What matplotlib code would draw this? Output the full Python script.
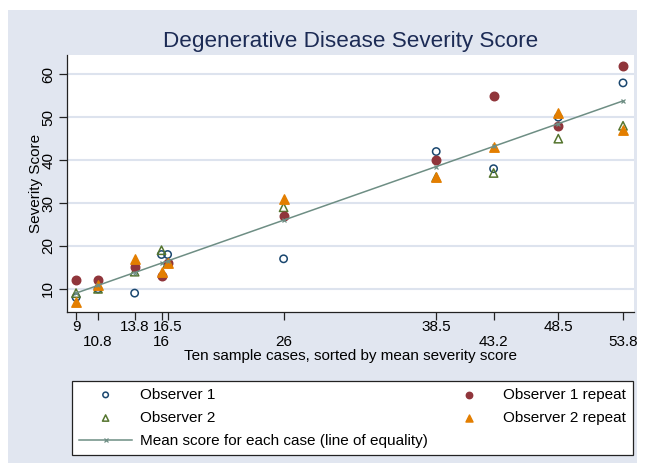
import matplotlib
matplotlib.use("Agg")
import matplotlib.pyplot as plt
from matplotlib.patches import Rectangle

plt.rcParams['font.family'] = ['Liberation Sans', 'DejaVu Sans']

# Data
case_means = [9, 10.8, 13.8, 16, 16.5, 26, 38.5, 43.2, 48.5, 53.8]
observer1 = [8, 10, 9, 18, 18, 17, 42, 38, 50, 58]
observer1_repeat = [12, 12, 15, 13, 16, 27, 40, 55, 48, 62]
observer2 = [9, 10, 14, 19, 16, 29, 36, 37, 45, 48]
observer2_repeat = [7, 11, 17, 14, 16, 31, 36, 43, 51, 47]
xtick_labels = ["9", "10.8", "13.8", "16", "16.5", "26", "38.5", "43.2", "48.5", "53.8"]
yticks = [10, 20, 30, 40, 50, 60]

BG = "#e1e6f0"
GRID = "#dde3ee"
NAVY = "#1a476f"
MAROON = "#90353b"
GREEN = "#55752f"
ORANGE = "#e37e00"
TEAL = "#6e8e84"
TITLE = "#1c2b55"
FS = 11

W, H = 645, 471
fig = plt.figure(figsize=(W / 100, H / 100), dpi=100)
fig.patch.set_facecolor("white")
fig.patches.append(Rectangle((8 / W, 1 - 463 / H), (637 - 8) / W, (463 - 10) / H,
                             transform=fig.transFigure, facecolor=BG, edgecolor="none", zorder=-10))

ax = fig.add_axes([67 / W, 1 - 312 / H, (634 - 67) / W, (312 - 55) / H])
ax.set_facecolor("white")
for s in ["top", "right"]:
    ax.spines[s].set_visible(False)
for s in ["left", "bottom"]:
    ax.spines[s].set_color("#222222")
    ax.spines[s].set_linewidth(0.9)

ax.set_xlim(8.26, 54.7)
ax.set_ylim(4.6, 64.5)

ax.set_yticks(yticks)
ax.set_yticklabels([str(v) for v in yticks], rotation=90, va="center")
ax.yaxis.grid(True, color=GRID, linewidth=1.5)
ax.set_axisbelow(True)

upper_pos = case_means[0::2]
upper_lab = xtick_labels[0::2]
lower_pos = case_means[1::2]
lower_lab = xtick_labels[1::2]
ax.set_xticks(upper_pos)
ax.set_xticklabels(upper_lab)
ax.set_xticks(lower_pos, minor=True)
ax.set_xticklabels(lower_lab, minor=True)
ax.tick_params(axis="x", which="major", length=5.5, width=0.9, pad=0.6, labelsize=FS, color="#222222")
ax.tick_params(axis="x", which="minor", length=5.5, width=0.9, pad=11.4, labelsize=FS, color="#222222")
ax.tick_params(axis="y", length=5.5, width=0.9, pad=3, labelsize=FS, color="#222222")

ax.scatter(case_means, observer1, s=28, facecolors="none", edgecolors=NAVY, linewidths=1.1,
           marker="o", label="Observer 1", zorder=3)
ax.scatter(case_means, observer2, s=36, facecolors="none", edgecolors=GREEN, linewidths=1.1,
           marker="^", label="Observer 2", zorder=3)
ax.plot(case_means, case_means, color=TEAL, linewidth=1.1, marker="x", markersize=3,
        markeredgewidth=0.9, label="Mean score for each case (line of equality)", zorder=5)
ax.scatter(case_means, observer1_repeat, s=38, color=MAROON, marker="o",
           label="Observer 1 repeat", zorder=3)
ax.scatter(case_means, observer2_repeat, s=46, color=ORANGE, marker="^",
           label="Observer 2 repeat", zorder=3)

ax.set_xlabel("Ten sample cases, sorted by mean severity score", fontsize=FS, labelpad=0)
ax.set_ylabel("Severity Score", fontsize=FS, labelpad=-1)

fig.text(351 / W, 1 - 41 / H, "Degenerative Disease Severity Score", ha="center", va="center",
         fontsize=16.2, color=TITLE)

handles, labels = ax.get_legend_handles_labels()
order = ["Observer 1", "Observer 2", "Mean score for each case (line of equality)",
         "Observer 1 repeat", "Observer 2 repeat"]
hmap = dict(zip(labels, handles))
leg = fig.legend([hmap[k] for k in order], order, ncol=2, loc="upper left",
                 bbox_to_anchor=(72 / W, 1 - 381 / H), frameon=True, fancybox=False,
                 edgecolor="#222222", facecolor="white", framealpha=1, markerscale=0.75,
                 fontsize=FS, handlelength=3.5, handletextpad=0.5, columnspacing=0.95,
                 labelspacing=0.6, borderpad=0.45, borderaxespad=0)
leg.get_frame().set_linewidth(0.9)

fig.savefig("out.png", dpi=100)
